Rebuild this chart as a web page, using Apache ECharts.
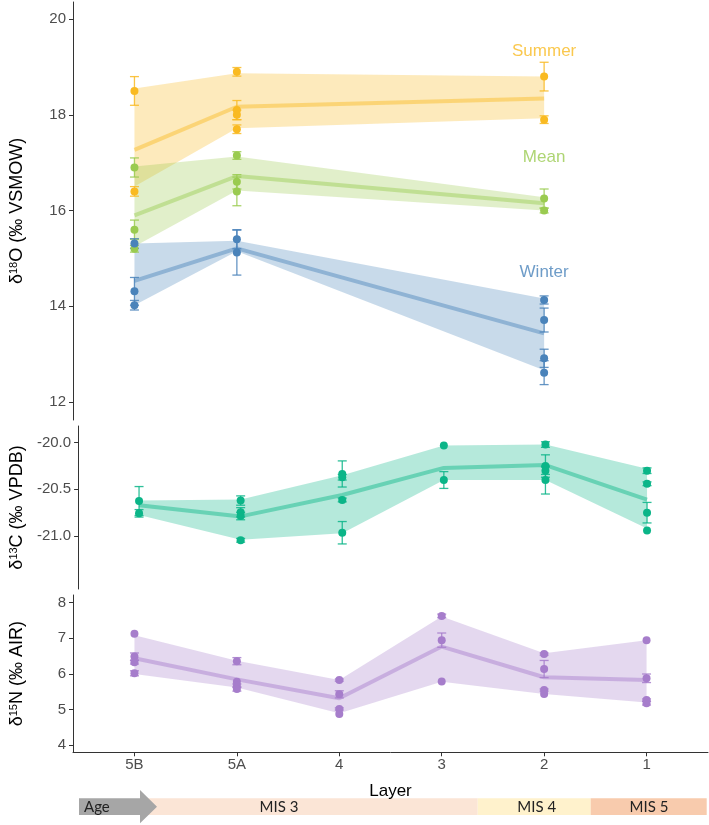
<!DOCTYPE html>
<html><head><meta charset="utf-8">
<script src="https://cdn.jsdelivr.net/npm/echarts@6/dist/echarts.min.js"></script>
<style>html,body{margin:0;padding:0;background:#fff}#c{width:709px;height:825px}</style>
</head><body><div id="c"></div>
<script>
// ---------- DATA ----------
const layers = ['5B','5A','4','3','2','1'];
const layerIdx = [0,1,2,3,4,5];
const o18Idx = [0,1,4];

// δ18O Summer
const summerX   = [0,0,1,1,1,1,4,4];
const summerVal = [18.5,16.4,18.9,18.1,18.0,17.7,18.8,17.9];
const summerErr = [0.3,0.1,0.09,0.2,0.1,0.09,0.3,0.08];
const summerLine  = [17.27,18.17,18.34];
const summerUpper = [18.55,18.87,18.8];
const summerLower = [16.5,17.72,17.93];

// δ18O Mean
const meanX   = [0,0,0,1,1,1,4,4];
const meanVal = [16.9,15.6,15.2,17.15,16.6,16.4,16.25,16.0];
const meanErr = [0.2,0.2,0.07,0.08,0.15,0.3,0.2,0.05];
const meanLine  = [15.9,16.72,16.15];
const meanUpper = [16.92,17.13,16.28];
const meanLower = [15.25,16.42,16.0];

// δ18O Winter
const winterX   = [0,0,0,1,1,4,4,4,4];
const winterVal = [15.31,14.31,14.02,15.4,15.12,14.13,13.71,12.91,12.61];
const winterErr = [0.1,0.29,0.1,0.2,0.47,0.085,0.25,0.19,0.25];
const winterLine  = [14.53,15.21,13.43];
const winterUpper = [15.31,15.37,14.16];
const winterLower = [14.02,15.15,12.66];

// δ13C
const cX   = [0,0, 1,1,1,1, 2,2,2,2, 3,3, 4,4,4,4, 5,5,5,5];
const cVal = [-20.625,-20.757, -20.62,-20.746,-20.786,-21.046, -20.335,-20.37,-20.614,-20.965, -20.03,-20.40, -20.02,-20.25,-20.30,-20.40, -20.30,-20.44,-20.75,-20.94];
const cErr = [0.155,0.04, 0.05,0.05,0.04,0.02, 0.14,0.03,0.02,0.12, 0,0.09, 0.03,0.12,0.04,0.15, 0.03,0.02,0.11,0];
const cLine  = [-20.67,-20.79,-20.56,-20.27,-20.24,-20.61];
const cUpper = [-20.62,-20.61,-20.35,-20.03,-20.02,-20.28];
const cLower = [-20.775,-21.04,-20.97,-20.40,-20.40,-20.92];

// δ15N
const nX   = [0,0,0,0, 1,1,1,1, 2,2,2,2, 3,3,3, 4,4,4,4, 5,5,5,5];
const nVal = [7.13,6.49,6.33,6.02, 6.36,5.78,5.67,5.58, 5.83,5.43,5.02,4.88, 7.63,6.95,5.79, 6.56,6.14,5.55,5.44, 6.95,5.88,5.27,5.18];
const nErr = [0,0.1,0.05,0.07, 0.1,0,0.05,0.06, 0.03,0.1,0.03,0, 0.05,0.2,0, 0.03,0.24,0.03,0, 0,0.12,0.03,0.05];
const nLine  = [6.44,5.85,5.32,6.77,5.91,5.83];
const nUpper = [7.09,6.37,5.83,7.61,6.58,6.95];
const nLower = [6.0,5.62,4.9,5.78,5.44,5.2];

// group labels
const groupNames = ['Summer','Mean','Winter'];
const groupLabelX = [4,4,4];
const groupLabelY = [19.32,17.11,14.70];

const yTicksO = [12,14,16,18,20];
const yTicksC = [-21,-20.5,-20];
const yTicksN = [4,5,6,7,8];

// ---------- STYLE ----------
const FONT = '"Liberation Sans", Arial, sans-serif';
const COL = {summer:'#F9BA22', mean:'#9ACB50', winter:'#4A83BA', c:'#0BB588', n:'#A67DCB'};

function hexA(hex, a){
  const r=parseInt(hex.slice(1,3),16), g=parseInt(hex.slice(3,5),16), b=parseInt(hex.slice(5,7),16);
  return `rgba(${r},${g},${b},${a})`;
}

function groupSeries(gi, xs, line, upper, lower, px, pv, pe, color){
  const out = [];
  out.push({type:'custom', xAxisIndex:gi, yAxisIndex:gi, silent:true, z:1,
    encode:{x:0, y:[1,2]},
    data: xs.map((x,i)=>[x, lower[i], upper[i]]),
    renderItem: function(params, api){
      if(params.dataIndex !== 0) return {type:'group', children:[]};
      const pts = [];
      for(let i=0;i<xs.length;i++) pts.push(api.coord([xs[i], upper[i]]));
      for(let i=xs.length-1;i>=0;i--) pts.push(api.coord([xs[i], lower[i]]));
      return {type:'polygon', shape:{points:pts}, style:{fill:hexA(color,0.3)}};
    }});
  out.push({type:'line', xAxisIndex:gi, yAxisIndex:gi, symbol:'none', silent:true,
    lineStyle:{color:hexA(color,0.45), width:4}, data: xs.map((x,i)=>[x, line[i]]), z:2});
  out.push({type:'custom', xAxisIndex:gi, yAxisIndex:gi, silent:true, z:3,
    encode:{x:0, y:1},
    data: px.map((x,i)=>[x, pv[i], pe[i]]),
    renderItem: function(params, api){
      const x=api.value(0), v=api.value(1), e=api.value(2);
      if(!(e>0)) return {type:'group', children:[]};
      const t=api.coord([x, v+e]), b=api.coord([x, v-e]);
      const hw=4.5, st={stroke:hexA(color,0.85), lineWidth:1.3};
      return {type:'group', children:[
        {type:'line', shape:{x1:t[0],y1:t[1],x2:b[0],y2:b[1]}, style:st},
        {type:'line', shape:{x1:t[0]-hw,y1:t[1],x2:t[0]+hw,y2:t[1]}, style:st},
        {type:'line', shape:{x1:b[0]-hw,y1:b[1],x2:b[0]+hw,y2:b[1]}, style:st}
      ]};
    }});
  out.push({type:'scatter', xAxisIndex:gi, yAxisIndex:gi, symbolSize:8, silent:true,
    itemStyle:{color:color, opacity:1}, data: px.map((x,i)=>[x, pv[i]]), z:4});
  return out;
}

const series = [].concat(
  groupSeries(0,o18Idx,summerLine,summerUpper,summerLower,summerX,summerVal,summerErr,COL.summer),
  groupSeries(0,o18Idx,meanLine,meanUpper,meanLower,meanX,meanVal,meanErr,COL.mean),
  groupSeries(0,o18Idx,winterLine,winterUpper,winterLower,winterX,winterVal,winterErr,COL.winter),
  groupSeries(1,layerIdx,cLine,cUpper,cLower,cX,cVal,cErr,COL.c),
  groupSeries(2,layerIdx,nLine,nUpper,nLower,nX,nVal,nErr,COL.n)
);
const gCols = [COL.summer, COL.mean, COL.winter];
series.push({type:'scatter', xAxisIndex:0, yAxisIndex:0, symbolSize:0, silent:true, z:5,
  data: groupNames.map((n,i)=>({value:[groupLabelX[i], groupLabelY[i]],
    label:{show:true, position:'inside', formatter:n, color:gCols[i], fontSize:17, fontFamily:FONT}}))});

function xAx(gi, show){
  const a = {type:'value', gridIndex:gi, min:-0.6, max:5.6, splitLine:{show:false}};
  if(!show){ a.show=false; return a; }
  Object.assign(a, {
    axisLine:{show:true, onZero:false, lineStyle:{color:'#333', width:1}},
    axisTick:{show:true, length:4, customValues:layerIdx, lineStyle:{color:'#333'}},
    axisLabel:{show:true, customValues:layerIdx, formatter:v=>layers[Math.round(v)], color:'#4d4d4d', fontSize:15, fontFamily:FONT, margin:5},
    name:'Layer', nameLocation:'middle', nameGap:31, nameTextStyle:{color:'#000', fontSize:17, fontFamily:FONT}
  });
  return a;
}
function yAx(gi, min, max, ticks, fmt, nameRich){
  return {type:'value', gridIndex:gi, min:min, max:max, splitLine:{show:false},
    axisLine:{show:true, onZero:false, lineStyle:{color:'#333', width:1}},
    axisTick:{show:true, length:4, customValues:ticks, lineStyle:{color:'#333'}},
    axisLabel:{show:true, customValues:ticks, formatter:fmt, color:'#4d4d4d', fontSize:15, fontFamily:FONT, margin:7},
    name:nameRich, nameLocation:'middle', nameRotate:90, nameGap:47,
    nameTextStyle:{color:'#000', fontFamily:FONT, fontSize:18,
      rich:{a:{fontSize:18, fontFamily:FONT, color:'#000'}, s:{fontSize:11, fontFamily:FONT, color:'#000', verticalAlign:'top'}}}
  };
}

const option = {
  animation:false,
  backgroundColor:'#fff',
  grid:[
    {left:72, right:1, top:2, height:418},
    {left:72, right:1, top:426, height:163},
    {left:72, right:1, top:595, height:157.3}
  ],
  xAxis:[xAx(0,false), xAx(1,false), xAx(2,true)],
  yAxis:[
    yAx(0, 11.62, 20.36, yTicksO, v=>String(v), '{a|δ}{s|18}{a|O (‰ VSMOW)}'),
    yAx(1, -21.568, -19.821, yTicksC, v=>v.toFixed(1), '{a|δ}{s|13}{a|C (‰ VPDB)}'),
    yAx(2, 3.804, 8.216, yTicksN, v=>String(v), '{a|δ}{s|15}{a|N (‰ AIR)}')
  ],
  series: series,
  graphic:[
    {type:'rect', shape:{x:140, y:798.3, width:337.7, height:16.7}, style:{fill:'#FBE5D6'}, silent:true},
    {type:'rect', shape:{x:477.7, y:798.3, width:113, height:16.7}, style:{fill:'#FFF2CC'}, silent:true},
    {type:'rect', shape:{x:590.7, y:798.3, width:116, height:16.7}, style:{fill:'#F8CBAD'}, silent:true},
    {type:'polygon', shape:{points:[[79,798.3],[140,798.3],[140,790],[157,806.7],[140,823.3],[140,815],[79,815]]}, style:{fill:'#A6A6A6'}, silent:true},
    {type:'text', x:84, y:806.7, style:{text:'Age', fill:'#222', font:'15px Lato, "Open Sans", sans-serif', verticalAlign:'middle', align:'left'}, silent:true},
    {type:'text', x:279, y:806.7, style:{text:'MIS 3', fill:'#222', font:'15px Lato, "Open Sans", sans-serif', verticalAlign:'middle', align:'center'}, silent:true},
    {type:'text', x:536.7, y:806.7, style:{text:'MIS 4', fill:'#222', font:'15px Lato, "Open Sans", sans-serif', verticalAlign:'middle', align:'center'}, silent:true},
    {type:'text', x:649, y:806.7, style:{text:'MIS 5', fill:'#222', font:'15px Lato, "Open Sans", sans-serif', verticalAlign:'middle', align:'center'}, silent:true}
  ]
};
const chart = echarts.init(document.getElementById('c'), null, {renderer:'canvas'});
chart.setOption(option);
</script>
</body></html>
